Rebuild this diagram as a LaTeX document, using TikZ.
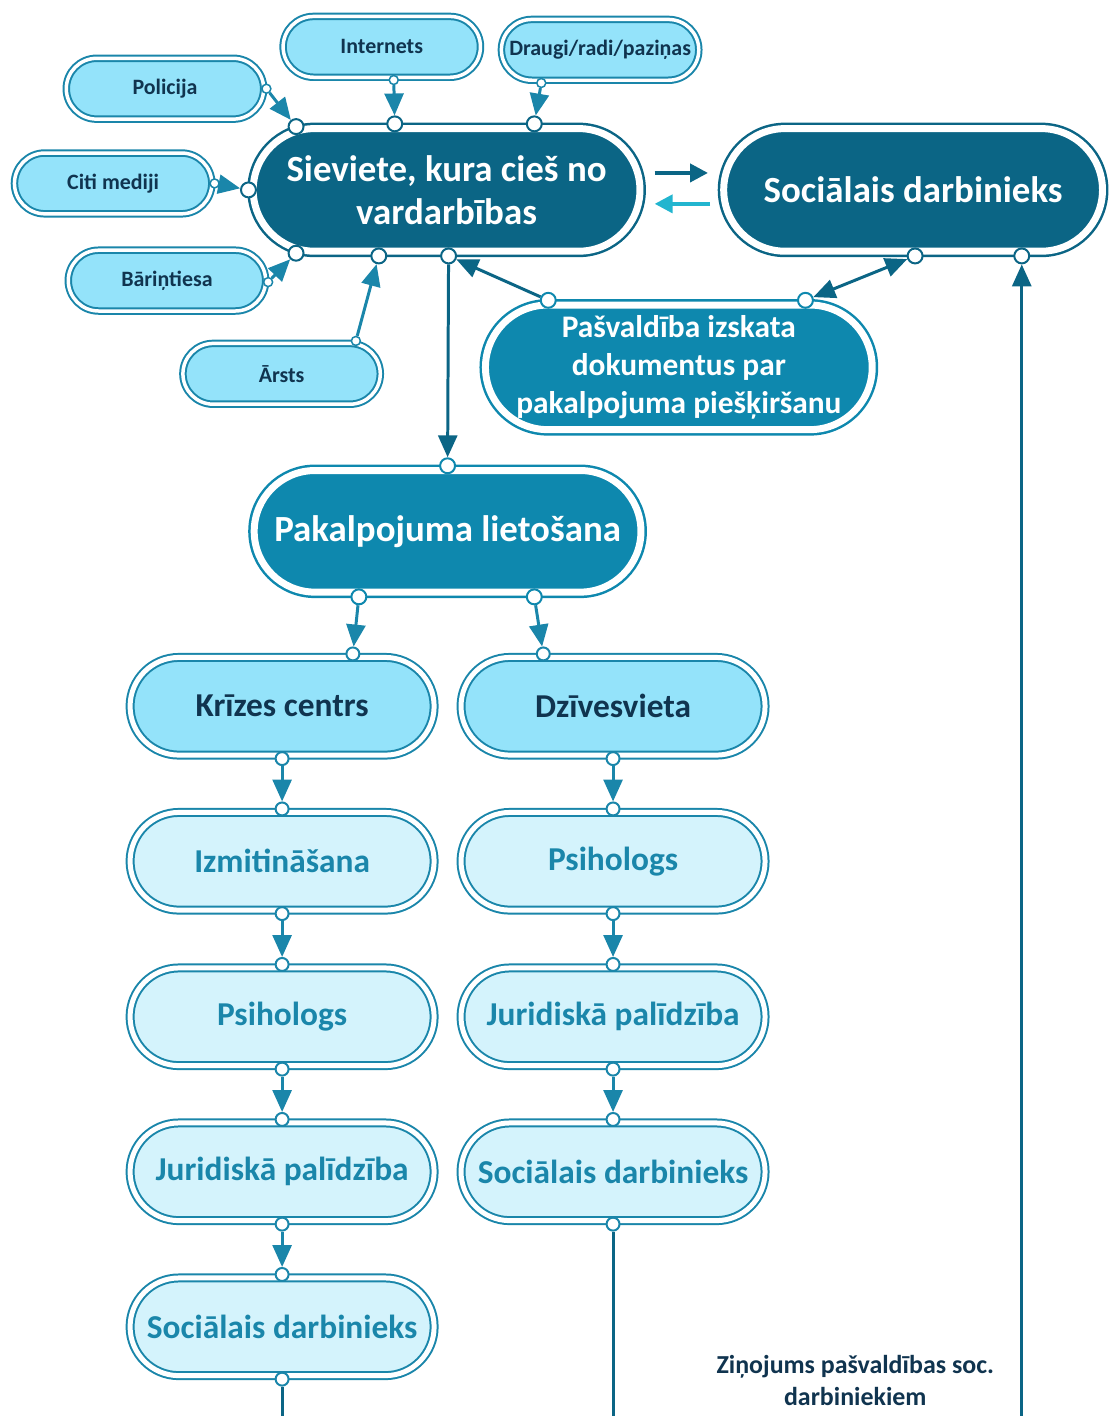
\documentclass[tikz,border=0pt]{standalone}
\usepackage{fontspec}
\setmainfont{Carlito}
\usetikzlibrary{arrows.meta,positioning}

\definecolor{darkblue}{HTML}{0B6585}
\definecolor{midblue}{HTML}{0E88AE}
\definecolor{linkblue}{HTML}{1A86AA}
\definecolor{boxlight}{HTML}{94E3FA}
\definecolor{boxpale}{HTML}{D4F3FC}
\definecolor{navytext}{HTML}{10344F}
\definecolor{cyanarrow}{HTML}{22B5CF}

\def\ux{1pt}
\def\uy{-1pt}

\begin{document}
\begin{tikzpicture}[x=\ux,y=\uy, font=\bfseries]
		\tikzset{
			box/.style={rectangle, draw=#1, double=white, align=center, inner sep=2pt},
			bigbox/.style={box=#1, fill=#1, text=white, double distance=7pt, line width=2.5pt, outer sep=4.75pt,
				minimum width=388pt, minimum height=123pt, rounded corners=61.5pt, font=\bfseries\fontsize{37}{43}\selectfont},
			srcbox/.style={box=linkblue, fill=boxlight, text=navytext, double distance=3.5pt, line width=2pt, outer sep=2.75pt,
				minimum width=198pt, minimum height=61pt, rounded corners=30.5pt, font=\bfseries\fontsize{22}{26}\selectfont},
			placebox/.style={box=linkblue, fill=boxlight, text=navytext, double distance=5pt, line width=2pt, outer sep=3.5pt,
				minimum width=305pt, minimum height=98pt, rounded corners=49pt, font=\bfseries\fontsize{33.5}{38}\selectfont},
			stepbox/.style={placebox, fill=boxpale, text=linkblue},
			port/.style={circle, draw=#1, fill=white, line width=2pt, inner sep=0pt, minimum size=15pt},
			smallport/.style={port=linkblue, line width=1.5pt, minimum size=9pt},
			midport/.style={port=linkblue, minimum size=13pt},
			link/.style={draw=#1, line width=3pt, -{Triangle[length=22pt,width=19pt]}},
			sidelink/.style={draw=#1, line width=4pt, -{Triangle[length=18pt,width=18pt]}},
		}

		\node[bigbox=darkblue] (sv) at (448,190.5) {Sieviete, kura cieš no\\vardarbības};
		\node[bigbox=darkblue, minimum width=380pt] (sd) at (916,190.5) {Sociālais darbinieks};
		\node[bigbox=midblue, minimum height=125pt, rounded corners=62.5pt,
			font=\bfseries\fontsize{31.5}{38}\selectfont] (pv) at (681,368.5) {Pašvaldība izskata\\dokumentus par\\pakalpojuma piešķiršanu};
		\node[bigbox=midblue, minimum height=122pt, rounded corners=61pt,
			font=\bfseries\fontsize{37}{42}\selectfont] (pk) at (449,533) {Pakalpojuma lietošana};

		\node[srcbox] (pol) at (165.5,89) {Policija};
		\node[srcbox] (int) at (383,47) {Internets};
		\node[srcbox] (dra) at (602,50) {Draugi/radi/paziņas};
		\node[srcbox] (cm) at (113.5,184) {Citi mediji};
		\node[srcbox] (bt) at (167.5,281.5) {Bāriņtiesa};
		\node[srcbox] (ar) at (282.5,375) {Ārsts};

		\node[placebox] (kc) at (283,708.5) {Krīzes centrs};
		\node[placebox] (dz) at (615,708.5) {Dzīvesvieta};
		\foreach \n/\t/\x/\y in {iz/Izmitināšana/283/864, ps1/Psihologs/283/1020,
			jp1/Juridiskā palīdzība/283/1175.5, sd1/Sociālais darbinieks/283/1331,
			ps2/Psihologs/615/864, jp2/Juridiskā palīdzība/615/1020, sd2/Sociālais darbinieks/615/1175.5}
			\node[stepbox] (\n) at (\x,\y) {\t};

		\node[text=navytext, align=center, font=\bfseries\fontsize{26}{32}\selectfont] (msg) at (858,1385)
			{Ziņojums pašvaldības soc.\\darbiniekiem};

		% ports
		\node[port=darkblue] (svA) at (297,127) {};
		\node[port=darkblue] (svB) at ([xshift=-52pt]sv.north) {};
		\node[port=darkblue] (svC) at ([xshift=88pt]sv.north) {};
		\node[port=darkblue] (svD) at (sv.west) {};
		\node[port=darkblue] (svE) at (297,254) {};
		\node[port=darkblue] (svF) at ([xshift=-68pt]sv.south) {};
		\node[port=darkblue] (svG) at ([xshift=2pt]sv.south) {};
		\node[port=darkblue] (sdA) at ([xshift=2pt]sd.south) {};
		\node[port=darkblue] (sdB) at ([xshift=109pt]sd.south) {};
		\node[port=midblue] (pvA) at ([xshift=-131pt]pv.north) {};
		\node[port=midblue] (pvB) at ([xshift=127pt]pv.north) {};
		\node[port=midblue] (pkT) at (pk.north) {};
		\node[port=midblue] (pkL) at ([xshift=-89pt]pk.south) {};
		\node[port=midblue] (pkR) at ([xshift=87pt]pk.south) {};
		\node[midport] (kcP) at ([xshift=71pt]kc.north) {};
		\node[midport] (dzP) at ([xshift=-70pt]dz.north) {};

		\node[smallport] (polP) at (pol.east) {};
		\node[smallport] (intP) at ([xshift=12pt]int.south) {};
		\node[smallport] (draP) at ([xshift=-59pt]dra.south) {};
		\node[smallport] (cmP) at (cm.east) {};
		\node[smallport] (btP) at (269,283) {};
		\node[smallport] (arP) at (357,342) {};

		\draw[link=linkblue] (polP) -- (svA);
		\draw[link=linkblue] (intP) -- (svB);
		\draw[link=linkblue] (draP) -- (svC);
		\draw[link=linkblue] (cmP) -- (svD);
		\draw[link=linkblue] (btP) -- (svE);
		\draw[link=linkblue] (arP) -- (svF);

		\draw[sidelink=darkblue, shorten <=10pt, shorten >=11pt] ([yshift=17pt]sv.east) -- ([yshift=17pt]sd.west);
		\draw[sidelink=cyanarrow, shorten <=9pt, shorten >=10pt] ([yshift=-14pt]sd.west) -- ([yshift=-14pt]sv.east);

		\draw[link=darkblue] (svG) -- (pkT);
		\draw[link=darkblue] (pvA) -- (svG);
		\draw[link=darkblue, {Triangle[length=22pt,width=19pt]}-{Triangle[length=22pt,width=19pt]}] (pvB) -- (sdA);
		\draw[link=linkblue] (pkL) -- (kcP);
		\draw[link=linkblue] (pkR) -- (dzP);

		\foreach \a/\b in {kc/iz, iz/ps1, ps1/jp1, jp1/sd1, dz/ps2, ps2/jp2, jp2/sd2}{
			\node[midport] (\a-o) at (\a.south) {};
			\node[midport] (\b-i) at (\b.north) {};
			\draw[link=linkblue] (\a-o) -- (\b-i);
		}

		\node[midport] (sd1-o) at (sd1.south) {};
		\node[midport] (sd2-o) at (sd2.south) {};
		\coordinate (endL) at (283,1420);
		\coordinate (endM) at (615,1420);
		\coordinate (endR) at (1025,1420);
		\draw[darkblue, line width=3pt] (sd1-o) -- (endL);
		\draw[darkblue, line width=3pt] (sd2-o) -- (endM);
		\draw[link=darkblue] (endR) -- (sdB);

		\useasboundingbox (0,0) rectangle (1108,1417);
\end{tikzpicture}
\end{document}
